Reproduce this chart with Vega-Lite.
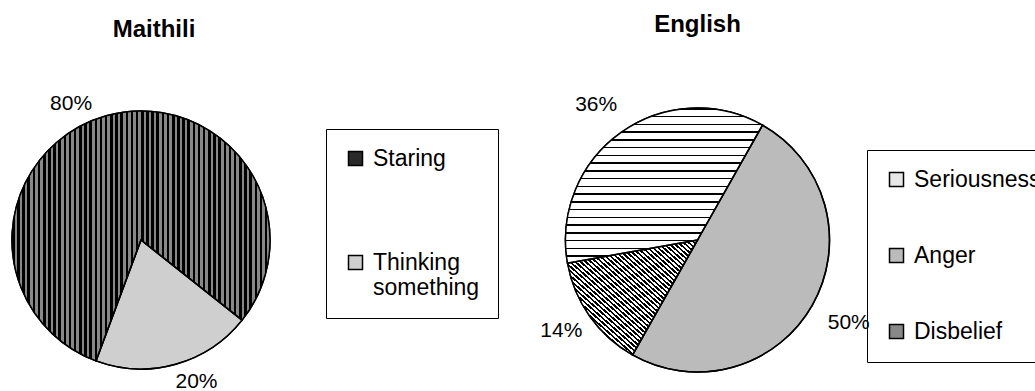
{
"$schema":"https://vega.github.io/schema/vega-lite/v6.json",
"width":1035,"height":391,"padding":0,"autosize":{"type":"none"},
"background":"#ffffff",
"config":{"view":{"stroke":null},"font":"Liberation Sans"},
"datasets":{
 "slices":[
  {"chart":"Maithili","category":"Staring","value":80,"label":"80%"},
  {"chart":"Maithili","category":"Thinking something","value":20,"label":"20%"},
  {"chart":"English","category":"Seriousness","value":36,"label":"36%"},
  {"chart":"English","category":"Anger","value":50,"label":"50%"},
  {"chart":"English","category":"Disbelief","value":14,"label":"14%"}
 ],
 "titles":[{"chart":"Maithili"},{"chart":"English"}]
},
"data":{"name":"slices"},
"encoding":{
 "x":{"field":"chart","type":"nominal","scale":{"type":"point","domain":["Maithili","English"],"range":[141,697.5],"padding":0},"axis":null},
 "y":{"field":"chart","type":"nominal","scale":{"type":"point","domain":["Maithili","English"],"range":[240,240],"padding":0},"axis":null}
},
"layer":[
 {"data":{"name":"titles"},"transform":[{"filter":"datum.chart === 'Maithili'"}],
  "mark":{"type":"text","fontSize":24,"fontWeight":"bold","dx":13,"dy":-210,"color":"#000"},
  "encoding":{"text":{"field":"chart"}}},
 {"data":{"name":"titles"},"transform":[{"filter":"datum.chart === 'English'"}],
  "mark":{"type":"text","fontSize":24,"fontWeight":"bold","dx":0,"dy":-215,"color":"#000"},
  "encoding":{"text":{"field":"chart"}}},
 {"transform":[{"filter":"datum.chart === 'Maithili'"}],
  "layer":[
   {"mark":{"type":"arc","outerRadius":129,"stroke":"#000","strokeWidth":1.5},
    "encoding":{
     "theta":{"field":"value","type":"quantitative","stack":true,"scale":{"range":[3.4977,9.7809]}},
     "order":{"field":"category","type":"nominal"},
     "color":{"field":"category","type":"nominal",
      "scale":{"domain":["Staring","Thinking something"],"range":["#2a2a2a","#cfcfcf"]},
      "legend":{"orient":"none","legendX":326,"legendY":129,"title":null,"strokeColor":"#000","padding":18,"rowPadding":80,"symbolType":"square","symbolSize":196,"symbolStrokeWidth":1.5,"labelFontSize":23,"labelFont":"Liberation Sans","labelColor":"#000","labelOffset":6,"labelLimit":400,
       "labelExpr":"datum.label === 'Thinking something' ? ['Thinking   ','something'] : datum.label"}
     }
    }},
   {"mark":{"type":"arc","outerRadius":129,
     "fill":{"gradient":"linear","x1":0,"y1":0,"x2":1,"y2":0,"stops":[
{"offset":0,"color":"#000"},{"offset":0.01,"color":"#000"},{"offset":0.01,"color":"#888"},{"offset":0.02,"color":"#888"},{"offset":0.02,"color":"#000"},{"offset":0.03,"color":"#000"},{"offset":0.03,"color":"#888"},{"offset":0.04,"color":"#888"},{"offset":0.04,"color":"#000"},{"offset":0.05,"color":"#000"},{"offset":0.05,"color":"#888"},{"offset":0.06,"color":"#888"},{"offset":0.06,"color":"#000"},{"offset":0.07,"color":"#000"},{"offset":0.07,"color":"#888"},{"offset":0.08,"color":"#888"},{"offset":0.08,"color":"#000"},{"offset":0.09,"color":"#000"},{"offset":0.09,"color":"#888"},{"offset":0.1,"color":"#888"},{"offset":0.1,"color":"#000"},{"offset":0.11,"color":"#000"},{"offset":0.11,"color":"#888"},{"offset":0.12,"color":"#888"},{"offset":0.12,"color":"#000"},{"offset":0.13,"color":"#000"},{"offset":0.13,"color":"#888"},{"offset":0.14,"color":"#888"},{"offset":0.14,"color":"#000"},{"offset":0.15,"color":"#000"},{"offset":0.15,"color":"#888"},{"offset":0.16,"color":"#888"},{"offset":0.16,"color":"#000"},{"offset":0.17,"color":"#000"},{"offset":0.17,"color":"#888"},{"offset":0.18,"color":"#888"},{"offset":0.18,"color":"#000"},{"offset":0.19,"color":"#000"},{"offset":0.19,"color":"#888"},{"offset":0.2,"color":"#888"},{"offset":0.2,"color":"#000"},{"offset":0.21,"color":"#000"},{"offset":0.21,"color":"#888"},{"offset":0.22,"color":"#888"},{"offset":0.22,"color":"#000"},{"offset":0.23,"color":"#000"},{"offset":0.23,"color":"#888"},{"offset":0.24,"color":"#888"},{"offset":0.24,"color":"#000"},{"offset":0.25,"color":"#000"},{"offset":0.25,"color":"#888"},{"offset":0.26,"color":"#888"},{"offset":0.26,"color":"#000"},{"offset":0.27,"color":"#000"},{"offset":0.27,"color":"#888"},{"offset":0.28,"color":"#888"},{"offset":0.28,"color":"#000"},{"offset":0.29,"color":"#000"},{"offset":0.29,"color":"#888"},{"offset":0.3,"color":"#888"},{"offset":0.3,"color":"#000"},{"offset":0.31,"color":"#000"},{"offset":0.31,"color":"#888"},{"offset":0.32,"color":"#888"},{"offset":0.32,"color":"#000"},{"offset":0.33,"color":"#000"},{"offset":0.33,"color":"#888"},{"offset":0.34,"color":"#888"},{"offset":0.34,"color":"#000"},{"offset":0.35,"color":"#000"},{"offset":0.35,"color":"#888"},{"offset":0.36,"color":"#888"},{"offset":0.36,"color":"#000"},{"offset":0.37,"color":"#000"},{"offset":0.37,"color":"#888"},{"offset":0.38,"color":"#888"},{"offset":0.38,"color":"#000"},{"offset":0.39,"color":"#000"},{"offset":0.39,"color":"#888"},{"offset":0.4,"color":"#888"},{"offset":0.4,"color":"#000"},{"offset":0.41,"color":"#000"},{"offset":0.41,"color":"#888"},{"offset":0.42,"color":"#888"},{"offset":0.42,"color":"#000"},{"offset":0.43,"color":"#000"},{"offset":0.43,"color":"#888"},{"offset":0.44,"color":"#888"},{"offset":0.44,"color":"#000"},{"offset":0.45,"color":"#000"},{"offset":0.45,"color":"#888"},{"offset":0.46,"color":"#888"},{"offset":0.46,"color":"#000"},{"offset":0.47,"color":"#000"},{"offset":0.47,"color":"#888"},{"offset":0.48,"color":"#888"},{"offset":0.48,"color":"#000"},{"offset":0.49,"color":"#000"},{"offset":0.49,"color":"#888"},{"offset":0.5,"color":"#888"},{"offset":0.5,"color":"#000"},{"offset":0.51,"color":"#000"},{"offset":0.51,"color":"#888"},{"offset":0.52,"color":"#888"},{"offset":0.52,"color":"#000"},{"offset":0.53,"color":"#000"},{"offset":0.53,"color":"#888"},{"offset":0.54,"color":"#888"},{"offset":0.54,"color":"#000"},{"offset":0.55,"color":"#000"},{"offset":0.55,"color":"#888"},{"offset":0.56,"color":"#888"},{"offset":0.56,"color":"#000"},{"offset":0.57,"color":"#000"},{"offset":0.57,"color":"#888"},{"offset":0.58,"color":"#888"},{"offset":0.58,"color":"#000"},{"offset":0.59,"color":"#000"},{"offset":0.59,"color":"#888"},{"offset":0.6,"color":"#888"},{"offset":0.6,"color":"#000"},{"offset":0.61,"color":"#000"},{"offset":0.61,"color":"#888"},{"offset":0.62,"color":"#888"},{"offset":0.62,"color":"#000"},{"offset":0.63,"color":"#000"},{"offset":0.63,"color":"#888"},{"offset":0.64,"color":"#888"},{"offset":0.64,"color":"#000"},{"offset":0.65,"color":"#000"},{"offset":0.65,"color":"#888"},{"offset":0.66,"color":"#888"},{"offset":0.66,"color":"#000"},{"offset":0.67,"color":"#000"},{"offset":0.67,"color":"#888"},{"offset":0.68,"color":"#888"},{"offset":0.68,"color":"#000"},{"offset":0.69,"color":"#000"},{"offset":0.69,"color":"#888"},{"offset":0.7,"color":"#888"},{"offset":0.7,"color":"#000"},{"offset":0.71,"color":"#000"},{"offset":0.71,"color":"#888"},{"offset":0.72,"color":"#888"},{"offset":0.72,"color":"#000"},{"offset":0.73,"color":"#000"},{"offset":0.73,"color":"#888"},{"offset":0.74,"color":"#888"},{"offset":0.74,"color":"#000"},{"offset":0.75,"color":"#000"},{"offset":0.75,"color":"#888"},{"offset":0.76,"color":"#888"},{"offset":0.76,"color":"#000"},{"offset":0.77,"color":"#000"},{"offset":0.77,"color":"#888"},{"offset":0.78,"color":"#888"},{"offset":0.78,"color":"#000"},{"offset":0.79,"color":"#000"},{"offset":0.79,"color":"#888"},{"offset":0.8,"color":"#888"},{"offset":0.8,"color":"#000"},{"offset":0.81,"color":"#000"},{"offset":0.81,"color":"#888"},{"offset":0.82,"color":"#888"},{"offset":0.82,"color":"#000"},{"offset":0.83,"color":"#000"},{"offset":0.83,"color":"#888"},{"offset":0.84,"color":"#888"},{"offset":0.84,"color":"#000"},{"offset":0.85,"color":"#000"},{"offset":0.85,"color":"#888"},{"offset":0.86,"color":"#888"},{"offset":0.86,"color":"#000"},{"offset":0.87,"color":"#000"},{"offset":0.87,"color":"#888"},{"offset":0.88,"color":"#888"},{"offset":0.88,"color":"#000"},{"offset":0.89,"color":"#000"},{"offset":0.89,"color":"#888"},{"offset":0.9,"color":"#888"},{"offset":0.9,"color":"#000"},{"offset":0.91,"color":"#000"},{"offset":0.91,"color":"#888"},{"offset":0.92,"color":"#888"},{"offset":0.92,"color":"#000"},{"offset":0.93,"color":"#000"},{"offset":0.93,"color":"#888"},{"offset":0.94,"color":"#888"},{"offset":0.94,"color":"#000"},{"offset":0.95,"color":"#000"},{"offset":0.95,"color":"#888"},{"offset":0.96,"color":"#888"},{"offset":0.96,"color":"#000"},{"offset":0.97,"color":"#000"},{"offset":0.97,"color":"#888"},{"offset":0.98,"color":"#888"},{"offset":0.98,"color":"#000"},{"offset":0.99,"color":"#000"},{"offset":0.99,"color":"#888"},{"offset":1,"color":"#888"}
     ]}},
    "encoding":{"theta":{"field":"value","type":"quantitative","stack":true},"order":{"field":"category","type":"nominal"},"detail":{"field":"category"},
     "fillOpacity":{"condition":{"test":"datum.category === 'Staring'","value":1},"value":0}}},
   {"mark":{"type":"arc","outerRadius":129,"fillOpacity":0,"stroke":"#000","strokeWidth":1.5},
    "encoding":{"theta":{"field":"value","type":"quantitative","stack":true},"order":{"field":"category","type":"nominal"},"detail":{"field":"category"}}},
   {"mark":{"type":"text","radius":141,"dx":-32,"fontSize":21,"color":"#000"},
    "encoding":{"theta":{"field":"value","type":"quantitative","stack":true},"order":{"field":"category","type":"nominal"},"detail":{"field":"category"},
     "text":{"condition":{"test":"datum.category === 'Staring'","field":"label"},"value":""}}},
   {"mark":{"type":"text","radius":147,"dx":16,"fontSize":21,"color":"#000"},
    "encoding":{"theta":{"field":"value","type":"quantitative","stack":true},"order":{"field":"category","type":"nominal"},"detail":{"field":"category"},
     "text":{"condition":{"test":"datum.category === 'Thinking something'","field":"label"},"value":""}}}
  ]},
 {"transform":[{"filter":"datum.chart === 'English'"}],
  "layer":[
   {"mark":{"type":"arc","outerRadius":132,"stroke":"#000","strokeWidth":1.5},
    "encoding":{
     "theta":{"field":"value","type":"quantitative","stack":true,"scale":{"range":[0.515,6.798]}},
     "order":{"field":"category","type":"nominal"},
     "color":{"field":"category","type":"nominal",
      "scale":{"domain":["Seriousness","Anger","Disbelief"],"range":["#e6e6e6","#bbbbbb","#888888"]},
      "legend":{"orient":"none","legendX":867,"legendY":150,"title":null,"strokeColor":"#000","padding":18,"rowPadding":52,"symbolType":"square","symbolSize":196,"symbolStrokeWidth":1.5,"labelFontSize":23,"labelFont":"Liberation Sans","labelColor":"#000","labelOffset":6,"labelLimit":400}
     }
    }},
   {"mark":{"type":"arc","outerRadius":132,
     "fill":{"gradient":"linear","x1":0,"y1":0,"x2":0,"y2":1,"stops":[
{"offset":0,"color":"#000"},{"offset":0.01,"color":"#000"},{"offset":0.01,"color":"#fff"},{"offset":0.05,"color":"#fff"},{"offset":0.05,"color":"#000"},{"offset":0.06,"color":"#000"},{"offset":0.06,"color":"#fff"},{"offset":0.1,"color":"#fff"},{"offset":0.1,"color":"#000"},{"offset":0.11,"color":"#000"},{"offset":0.11,"color":"#fff"},{"offset":0.15,"color":"#fff"},{"offset":0.15,"color":"#000"},{"offset":0.16,"color":"#000"},{"offset":0.16,"color":"#fff"},{"offset":0.2,"color":"#fff"},{"offset":0.2,"color":"#000"},{"offset":0.21,"color":"#000"},{"offset":0.21,"color":"#fff"},{"offset":0.25,"color":"#fff"},{"offset":0.25,"color":"#000"},{"offset":0.26,"color":"#000"},{"offset":0.26,"color":"#fff"},{"offset":0.3,"color":"#fff"},{"offset":0.3,"color":"#000"},{"offset":0.31,"color":"#000"},{"offset":0.31,"color":"#fff"},{"offset":0.35,"color":"#fff"},{"offset":0.35,"color":"#000"},{"offset":0.36,"color":"#000"},{"offset":0.36,"color":"#fff"},{"offset":0.4,"color":"#fff"},{"offset":0.4,"color":"#000"},{"offset":0.41,"color":"#000"},{"offset":0.41,"color":"#fff"},{"offset":0.45,"color":"#fff"},{"offset":0.45,"color":"#000"},{"offset":0.46,"color":"#000"},{"offset":0.46,"color":"#fff"},{"offset":0.5,"color":"#fff"},{"offset":0.5,"color":"#000"},{"offset":0.51,"color":"#000"},{"offset":0.51,"color":"#fff"},{"offset":0.55,"color":"#fff"},{"offset":0.55,"color":"#000"},{"offset":0.56,"color":"#000"},{"offset":0.56,"color":"#fff"},{"offset":0.6,"color":"#fff"},{"offset":0.6,"color":"#000"},{"offset":0.61,"color":"#000"},{"offset":0.61,"color":"#fff"},{"offset":0.65,"color":"#fff"},{"offset":0.65,"color":"#000"},{"offset":0.66,"color":"#000"},{"offset":0.66,"color":"#fff"},{"offset":0.7,"color":"#fff"},{"offset":0.7,"color":"#000"},{"offset":0.71,"color":"#000"},{"offset":0.71,"color":"#fff"},{"offset":0.75,"color":"#fff"},{"offset":0.75,"color":"#000"},{"offset":0.76,"color":"#000"},{"offset":0.76,"color":"#fff"},{"offset":0.8,"color":"#fff"},{"offset":0.8,"color":"#000"},{"offset":0.81,"color":"#000"},{"offset":0.81,"color":"#fff"},{"offset":0.85,"color":"#fff"},{"offset":0.85,"color":"#000"},{"offset":0.86,"color":"#000"},{"offset":0.86,"color":"#fff"},{"offset":0.9,"color":"#fff"},{"offset":0.9,"color":"#000"},{"offset":0.91,"color":"#000"},{"offset":0.91,"color":"#fff"},{"offset":0.95,"color":"#fff"},{"offset":0.95,"color":"#000"},{"offset":0.96,"color":"#000"},{"offset":0.96,"color":"#fff"},{"offset":1,"color":"#fff"}
     ]}},
    "encoding":{"theta":{"field":"value","type":"quantitative","stack":true},"order":{"field":"category","type":"nominal"},"detail":{"field":"category"},
     "fillOpacity":{"condition":{"test":"datum.category === 'Seriousness'","value":1},"value":0}}},
   {"mark":{"type":"arc","outerRadius":132,
     "fill":{"gradient":"linear","x1":1,"y1":0,"x2":0,"y2":1,"stops":[
{"offset":0,"color":"#000"},{"offset":0.01,"color":"#000"},{"offset":0.01,"color":"#fff"},{"offset":0.02,"color":"#fff"},{"offset":0.02,"color":"#000"},{"offset":0.03,"color":"#000"},{"offset":0.03,"color":"#fff"},{"offset":0.04,"color":"#fff"},{"offset":0.04,"color":"#000"},{"offset":0.05,"color":"#000"},{"offset":0.05,"color":"#fff"},{"offset":0.06,"color":"#fff"},{"offset":0.06,"color":"#000"},{"offset":0.07,"color":"#000"},{"offset":0.07,"color":"#fff"},{"offset":0.08,"color":"#fff"},{"offset":0.08,"color":"#000"},{"offset":0.09,"color":"#000"},{"offset":0.09,"color":"#fff"},{"offset":0.1,"color":"#fff"},{"offset":0.1,"color":"#000"},{"offset":0.11,"color":"#000"},{"offset":0.11,"color":"#fff"},{"offset":0.12,"color":"#fff"},{"offset":0.12,"color":"#000"},{"offset":0.13,"color":"#000"},{"offset":0.13,"color":"#fff"},{"offset":0.14,"color":"#fff"},{"offset":0.14,"color":"#000"},{"offset":0.15,"color":"#000"},{"offset":0.15,"color":"#fff"},{"offset":0.16,"color":"#fff"},{"offset":0.16,"color":"#000"},{"offset":0.17,"color":"#000"},{"offset":0.17,"color":"#fff"},{"offset":0.18,"color":"#fff"},{"offset":0.18,"color":"#000"},{"offset":0.19,"color":"#000"},{"offset":0.19,"color":"#fff"},{"offset":0.2,"color":"#fff"},{"offset":0.2,"color":"#000"},{"offset":0.21,"color":"#000"},{"offset":0.21,"color":"#fff"},{"offset":0.22,"color":"#fff"},{"offset":0.22,"color":"#000"},{"offset":0.23,"color":"#000"},{"offset":0.23,"color":"#fff"},{"offset":0.24,"color":"#fff"},{"offset":0.24,"color":"#000"},{"offset":0.25,"color":"#000"},{"offset":0.25,"color":"#fff"},{"offset":0.26,"color":"#fff"},{"offset":0.26,"color":"#000"},{"offset":0.27,"color":"#000"},{"offset":0.27,"color":"#fff"},{"offset":0.28,"color":"#fff"},{"offset":0.28,"color":"#000"},{"offset":0.29,"color":"#000"},{"offset":0.29,"color":"#fff"},{"offset":0.3,"color":"#fff"},{"offset":0.3,"color":"#000"},{"offset":0.31,"color":"#000"},{"offset":0.31,"color":"#fff"},{"offset":0.32,"color":"#fff"},{"offset":0.32,"color":"#000"},{"offset":0.33,"color":"#000"},{"offset":0.33,"color":"#fff"},{"offset":0.34,"color":"#fff"},{"offset":0.34,"color":"#000"},{"offset":0.35,"color":"#000"},{"offset":0.35,"color":"#fff"},{"offset":0.36,"color":"#fff"},{"offset":0.36,"color":"#000"},{"offset":0.37,"color":"#000"},{"offset":0.37,"color":"#fff"},{"offset":0.38,"color":"#fff"},{"offset":0.38,"color":"#000"},{"offset":0.39,"color":"#000"},{"offset":0.39,"color":"#fff"},{"offset":0.4,"color":"#fff"},{"offset":0.4,"color":"#000"},{"offset":0.41,"color":"#000"},{"offset":0.41,"color":"#fff"},{"offset":0.42,"color":"#fff"},{"offset":0.42,"color":"#000"},{"offset":0.43,"color":"#000"},{"offset":0.43,"color":"#fff"},{"offset":0.44,"color":"#fff"},{"offset":0.44,"color":"#000"},{"offset":0.45,"color":"#000"},{"offset":0.45,"color":"#fff"},{"offset":0.46,"color":"#fff"},{"offset":0.46,"color":"#000"},{"offset":0.47,"color":"#000"},{"offset":0.47,"color":"#fff"},{"offset":0.48,"color":"#fff"},{"offset":0.48,"color":"#000"},{"offset":0.49,"color":"#000"},{"offset":0.49,"color":"#fff"},{"offset":0.5,"color":"#fff"},{"offset":0.5,"color":"#000"},{"offset":0.51,"color":"#000"},{"offset":0.51,"color":"#fff"},{"offset":0.52,"color":"#fff"},{"offset":0.52,"color":"#000"},{"offset":0.53,"color":"#000"},{"offset":0.53,"color":"#fff"},{"offset":0.54,"color":"#fff"},{"offset":0.54,"color":"#000"},{"offset":0.55,"color":"#000"},{"offset":0.55,"color":"#fff"},{"offset":0.56,"color":"#fff"},{"offset":0.56,"color":"#000"},{"offset":0.57,"color":"#000"},{"offset":0.57,"color":"#fff"},{"offset":0.58,"color":"#fff"},{"offset":0.58,"color":"#000"},{"offset":0.59,"color":"#000"},{"offset":0.59,"color":"#fff"},{"offset":0.6,"color":"#fff"},{"offset":0.6,"color":"#000"},{"offset":0.61,"color":"#000"},{"offset":0.61,"color":"#fff"},{"offset":0.62,"color":"#fff"},{"offset":0.62,"color":"#000"},{"offset":0.63,"color":"#000"},{"offset":0.63,"color":"#fff"},{"offset":0.64,"color":"#fff"},{"offset":0.64,"color":"#000"},{"offset":0.65,"color":"#000"},{"offset":0.65,"color":"#fff"},{"offset":0.66,"color":"#fff"},{"offset":0.66,"color":"#000"},{"offset":0.67,"color":"#000"},{"offset":0.67,"color":"#fff"},{"offset":0.68,"color":"#fff"},{"offset":0.68,"color":"#000"},{"offset":0.69,"color":"#000"},{"offset":0.69,"color":"#fff"},{"offset":0.7,"color":"#fff"},{"offset":0.7,"color":"#000"},{"offset":0.71,"color":"#000"},{"offset":0.71,"color":"#fff"},{"offset":0.72,"color":"#fff"},{"offset":0.72,"color":"#000"},{"offset":0.73,"color":"#000"},{"offset":0.73,"color":"#fff"},{"offset":0.74,"color":"#fff"},{"offset":0.74,"color":"#000"},{"offset":0.75,"color":"#000"},{"offset":0.75,"color":"#fff"},{"offset":0.76,"color":"#fff"},{"offset":0.76,"color":"#000"},{"offset":0.77,"color":"#000"},{"offset":0.77,"color":"#fff"},{"offset":0.78,"color":"#fff"},{"offset":0.78,"color":"#000"},{"offset":0.79,"color":"#000"},{"offset":0.79,"color":"#fff"},{"offset":0.8,"color":"#fff"},{"offset":0.8,"color":"#000"},{"offset":0.81,"color":"#000"},{"offset":0.81,"color":"#fff"},{"offset":0.82,"color":"#fff"},{"offset":0.82,"color":"#000"},{"offset":0.83,"color":"#000"},{"offset":0.83,"color":"#fff"},{"offset":0.84,"color":"#fff"},{"offset":0.84,"color":"#000"},{"offset":0.85,"color":"#000"},{"offset":0.85,"color":"#fff"},{"offset":0.86,"color":"#fff"},{"offset":0.86,"color":"#000"},{"offset":0.87,"color":"#000"},{"offset":0.87,"color":"#fff"},{"offset":0.88,"color":"#fff"},{"offset":0.88,"color":"#000"},{"offset":0.89,"color":"#000"},{"offset":0.89,"color":"#fff"},{"offset":0.9,"color":"#fff"},{"offset":0.9,"color":"#000"},{"offset":0.91,"color":"#000"},{"offset":0.91,"color":"#fff"},{"offset":0.92,"color":"#fff"},{"offset":0.92,"color":"#000"},{"offset":0.93,"color":"#000"},{"offset":0.93,"color":"#fff"},{"offset":0.94,"color":"#fff"},{"offset":0.94,"color":"#000"},{"offset":0.95,"color":"#000"},{"offset":0.95,"color":"#fff"},{"offset":0.96,"color":"#fff"},{"offset":0.96,"color":"#000"},{"offset":0.97,"color":"#000"},{"offset":0.97,"color":"#fff"},{"offset":0.98,"color":"#fff"},{"offset":0.98,"color":"#000"},{"offset":0.99,"color":"#000"},{"offset":0.99,"color":"#fff"},{"offset":1,"color":"#fff"}
     ]}},
    "encoding":{"theta":{"field":"value","type":"quantitative","stack":true},"order":{"field":"category","type":"nominal"},"detail":{"field":"category"},
     "fillOpacity":{"condition":{"test":"datum.category === 'Disbelief'","value":1},"value":0}}},
   {"mark":{"type":"arc","outerRadius":132,"fillOpacity":0,"stroke":"#000","strokeWidth":1.5},
    "encoding":{"theta":{"field":"value","type":"quantitative","stack":true},"order":{"field":"category","type":"nominal"},"detail":{"field":"category"}}},
   {"mark":{"type":"text","radius":165,"dx":-6,"fontSize":21,"color":"#000"},
    "encoding":{"theta":{"field":"value","type":"quantitative","stack":true},"order":{"field":"category","type":"nominal"},"detail":{"field":"category"},
     "text":{"condition":{"test":"datum.category === 'Seriousness'","field":"label"},"value":""}}},
   {"mark":{"type":"text","radius":157,"dx":-8,"fontSize":21,"color":"#000"},
    "encoding":{"theta":{"field":"value","type":"quantitative","stack":true},"order":{"field":"category","type":"nominal"},"detail":{"field":"category"},
     "text":{"condition":{"test":"datum.category === 'Disbelief'","field":"label"},"value":""}}},
   {"mark":{"type":"text","radius":168,"dx":5,"fontSize":21,"color":"#000"},
    "encoding":{"theta":{"field":"value","type":"quantitative","stack":true},"order":{"field":"category","type":"nominal"},"detail":{"field":"category"},
     "text":{"condition":{"test":"datum.category === 'Anger'","field":"label"},"value":""}}}
  ]}
],
"resolve":{"scale":{"theta":"independent","color":"independent"}}
}
